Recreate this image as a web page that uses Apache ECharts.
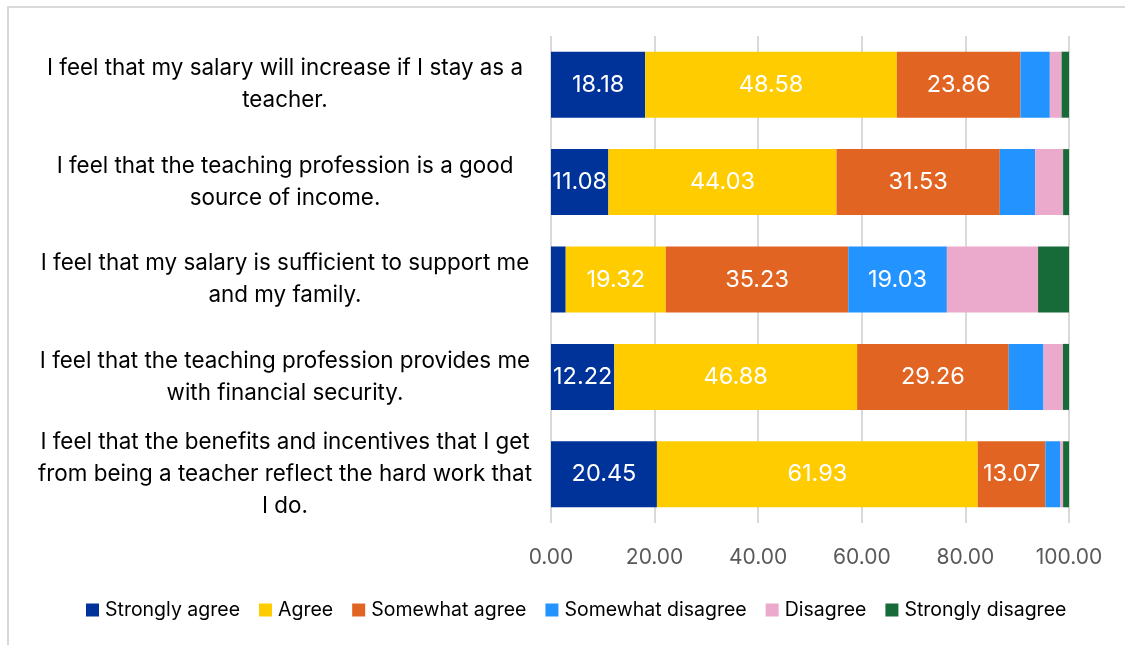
<!DOCTYPE html>
<html>
<head>
<meta charset="utf-8">
<script src="https://cdn.jsdelivr.net/npm/echarts@6/dist/echarts.min.js"></script>
<style>
  html, body { margin: 0; padding: 0; background: #ffffff; }
  #chart { width: 1125px; height: 645px; }
</style>
</head>
<body>
<div id="chart"></div>
<script>
// Survey statements, one label line per array entry (top to bottom)
const statements = [
  ['I feel that my salary will increase if I stay as a', 'teacher.'],
  ['I feel that the teaching profession is a good', 'source of income.'],
  ['I feel that my salary is sufficient to support me', 'and my family.'],
  ['I feel that the teaching profession provides me', 'with financial security.'],
  ['I feel that the benefits and incentives that I get', 'from being a teacher reflect the hard work that', 'I do.']
];

const seriesNames = ['Strongly agree', 'Agree', 'Somewhat agree', 'Somewhat disagree', 'Disagree', 'Strongly disagree'];

// Percent of respondents per answer, same statement order as above
const stronglyAgree    = [18.18, 11.08, 2.84, 12.22, 20.45];
const agree            = [48.58, 44.03, 19.32, 46.88, 61.93];
const somewhatAgree    = [23.86, 31.53, 35.23, 29.26, 13.07];
const somewhatDisagree = [5.68, 6.82, 19.03, 6.72, 2.84];
const disagree         = [2.27, 5.40, 17.61, 3.75, 0.57];
const stronglyDisagree = [1.43, 1.14, 5.97, 1.17, 1.14];

const xTicks = [0, 20, 40, 60, 80, 100];

const colors = ['#003399', '#FFCC00', '#E26422', '#2394FF', '#EBAACB', '#176B38'];
const FONT = 'Inter';

const categories = statements.map(lines => lines.join('\n'));
const values = [stronglyAgree, agree, somewhatAgree, somewhatDisagree, disagree, stronglyDisagree];
const labelled = [true, true, true, true, false, false];

const chart = echarts.init(document.getElementById('chart'), null, { renderer: 'canvas' });

chart.setOption({
  animation: false,
  backgroundColor: '#ffffff',
  textStyle: { fontFamily: FONT },
  color: colors,
  graphic: [{
    type: 'rect',
    shape: { x: 8, y: 7, width: 1300, height: 800 },
    style: { fill: 'none', stroke: '#d9d9d9', lineWidth: 2 },
    silent: true,
    z: -10
  }],
  grid: { left: 551, right: 56, top: 36, bottom: 122, containLabel: false },
  legend: {
    bottom: 20,
    left: 81,
    itemWidth: 13,
    itemHeight: 13,
    itemGap: 19,
    icon: 'rect',
    textStyle: { fontFamily: FONT, fontSize: 19.5, color: '#000000', padding: [0, 0, 0, 1] },
    data: seriesNames
  },
  xAxis: {
    type: 'value',
    min: xTicks[0],
    max: xTicks[xTicks.length - 1],
    interval: xTicks[1] - xTicks[0],
    axisLine: { show: false },
    axisTick: { show: false },
    splitLine: { show: true, lineStyle: { color: '#d9d9d9', width: 2 } },
    axisLabel: {
      margin: 24,
      fontFamily: FONT,
      fontSize: 21,
      color: '#595959',
      formatter: v => v.toFixed(2)
    }
  },
  yAxis: {
    type: 'category',
    inverse: true,
    data: categories,
    axisLine: { show: false },
    axisTick: { show: false },
    axisLabel: {
      margin: 21,
      align: 'right',
      lineHeight: 32,
      formatter: value => value.split('\n').map(s => '{c|' + s + '}').join('\n'),
      rich: {
        c: {
          width: 490,
          align: 'center',
          fontFamily: FONT,
          fontSize: 22.4,
          lineHeight: 32,
          color: '#000000'
        }
      }
    }
  },
  series: values.map((arr, i) => ({
    name: seriesNames[i],
    type: 'bar',
    stack: 'total',
    barWidth: 66,
    data: arr,
    itemStyle: { color: colors[i] },
    label: {
      show: labelled[i],
      position: 'inside',
      color: '#ffffff',
      fontFamily: FONT,
      fontSize: 23.5,
      formatter: p => (p.value >= 10 ? p.value.toFixed(2) : '')
    }
  }))
});
</script>
</body>
</html>
